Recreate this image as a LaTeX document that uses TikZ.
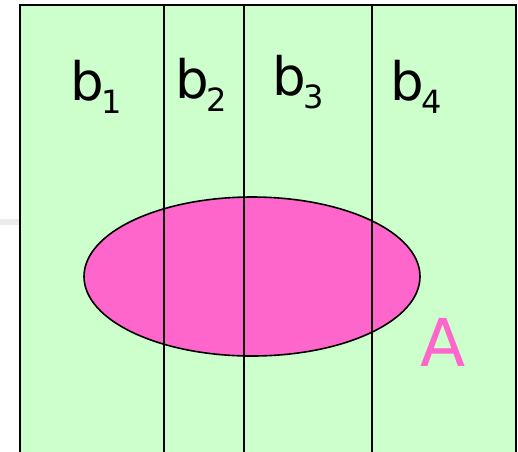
\documentclass[tikz,border=0pt]{standalone}
\usepackage{fontspec}
\setmainfont{DejaVu Sans}
\usepackage{tikz}
\usepackage{xcolor}
\usetikzlibrary{positioning}
\definecolor{panelgreen}{RGB}{204,255,204}
\definecolor{setpink}{RGB}{255,102,204}
\definecolor{stripgray}{RGB}{235,235,235}
\newcommand{\blockname}[1]{\fontsize{53}{53}\selectfont b\kern-2pt\raisebox{-13pt}{\fontsize{32}{32}\selectfont #1}}

\begin{document}
\begin{tikzpicture}[x=1pt,y=-1pt,line width=2pt]
\useasboundingbox (0,0) rectangle (518,451);
\fill[stripgray] (0,219) rectangle (20,225);
\fill[panelgreen] (20,5) rectangle (516,460);
\fill[setpink,draw=black,line width=1.6pt] (252,276.5) ellipse [x radius=168,y radius=79.5];
\draw (20,460) -- (20,5) -- (516,5) -- (516,460);
\draw (164,5) -- (164,460); \draw (244,5) -- (244,460); \draw (372,5) -- (372,460);
\node[anchor=base west,inner sep=0pt] (b1) at (69,100) {\blockname{1}};
\node[anchor=base west,inner sep=0pt] (b2) at (174,98) {\blockname{2}};
\node[anchor=base west,inner sep=0pt] (b3) at (271,95) {\blockname{3}};
\node[anchor=base west,inner sep=0pt] (b4) at (389,100) {\blockname{4}};
\node[text=setpink,inner sep=0pt,font=\fontsize{66}{66}\selectfont] (setA) at (443,342) {A};
\end{tikzpicture}
\end{document}
